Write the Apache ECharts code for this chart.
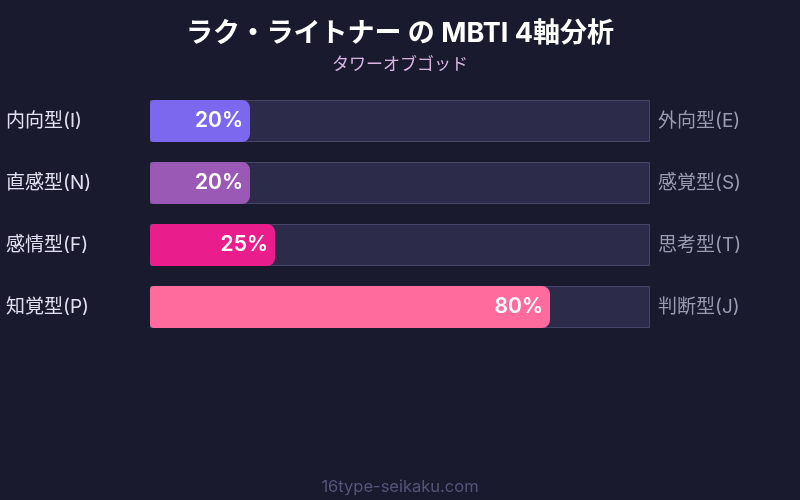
<!DOCTYPE html>
<html>
<head>
<meta charset="utf-8">
<script src="https://cdn.jsdelivr.net/npm/echarts@6/dist/echarts.min.js"></script>
<style>
  html, body { margin: 0; padding: 0; background: #1a1a2e; }
  #chart { width: 800px; height: 500px; }
</style>
</head>
<body>
<div id="chart"></div>
<script>
var leftLabels = ['内向型(I)', '直感型(N)', '感情型(F)', '知覚型(P)']
var rightLabels = ['外向型(E)', '感覚型(S)', '思考型(T)', '判断型(J)']
var values = [20, 20, 25, 80]
var colors = ['#7b68ee', '#9b59b6', '#e91e8c', '#ff6b9d']
var fullScale = [100, 100, 100, 100]

var font = 'Inter, "Noto Sans CJK JP", sans-serif'

var chart = echarts.init(document.getElementById('chart'), null, { renderer: 'canvas' })

chart.setOption({
  backgroundColor: '#1a1a2e',
  animation: false,
  title: [{
    text: 'ラク・ライトナー の MBTI 4軸分析',
    subtext: 'タワーオブゴッド',
    left: 'center',
    top: 15,
    itemGap: 9,
    textStyle: { color: '#ffffff', fontSize: 27, fontWeight: 'bold', fontFamily: font },
    subtextStyle: { color: '#d8b4e2', fontSize: 17, fontFamily: font }
  }, {
    text: '16type-seikaku.com',
    left: 'center',
    top: 474,
    textStyle: { color: '#55557a', fontSize: 16.5, fontWeight: 'normal', fontFamily: font }
  }],
  grid: { left: 150, right: 150, top: 90, height: 248 },
  xAxis: { type: 'value', min: 0, max: 100, show: false },
  yAxis: [{
    type: 'category',
    inverse: true,
    data: leftLabels,
    position: 'left',
    axisLine: { show: false },
    axisTick: { show: false },
    axisLabel: { color: '#e0e0f0', fontSize: 19, fontFamily: font, align: 'left', margin: 144 }
  }, {
    type: 'category',
    inverse: true,
    data: rightLabels,
    position: 'right',
    axisLine: { show: false },
    axisTick: { show: false },
    axisLabel: { color: '#9a9ab0', fontSize: 19, fontFamily: font, align: 'left', margin: 8 }
  }],
  series: [{
    type: 'bar',
    data: fullScale,
    barWidth: 42,
    barGap: '-100%',
    silent: true,
    itemStyle: { color: '#2d2b4a', borderColor: '#45456a', borderWidth: 1 },
    z: 1
  }, {
    type: 'bar',
    data: values.map(function (v, i) { return { value: v, itemStyle: { color: colors[i] } } }),
    barWidth: 42,
    itemStyle: { borderRadius: [4, 8, 8, 4] },
    label: {
      show: true,
      position: 'insideRight',
      offset: [-2, 0],
      formatter: '{c}%',
      color: '#ffffff',
      fontSize: 21,
      fontWeight: 600,
      fontFamily: font
    },
    z: 2
  }]
})
</script>
</body>
</html>
